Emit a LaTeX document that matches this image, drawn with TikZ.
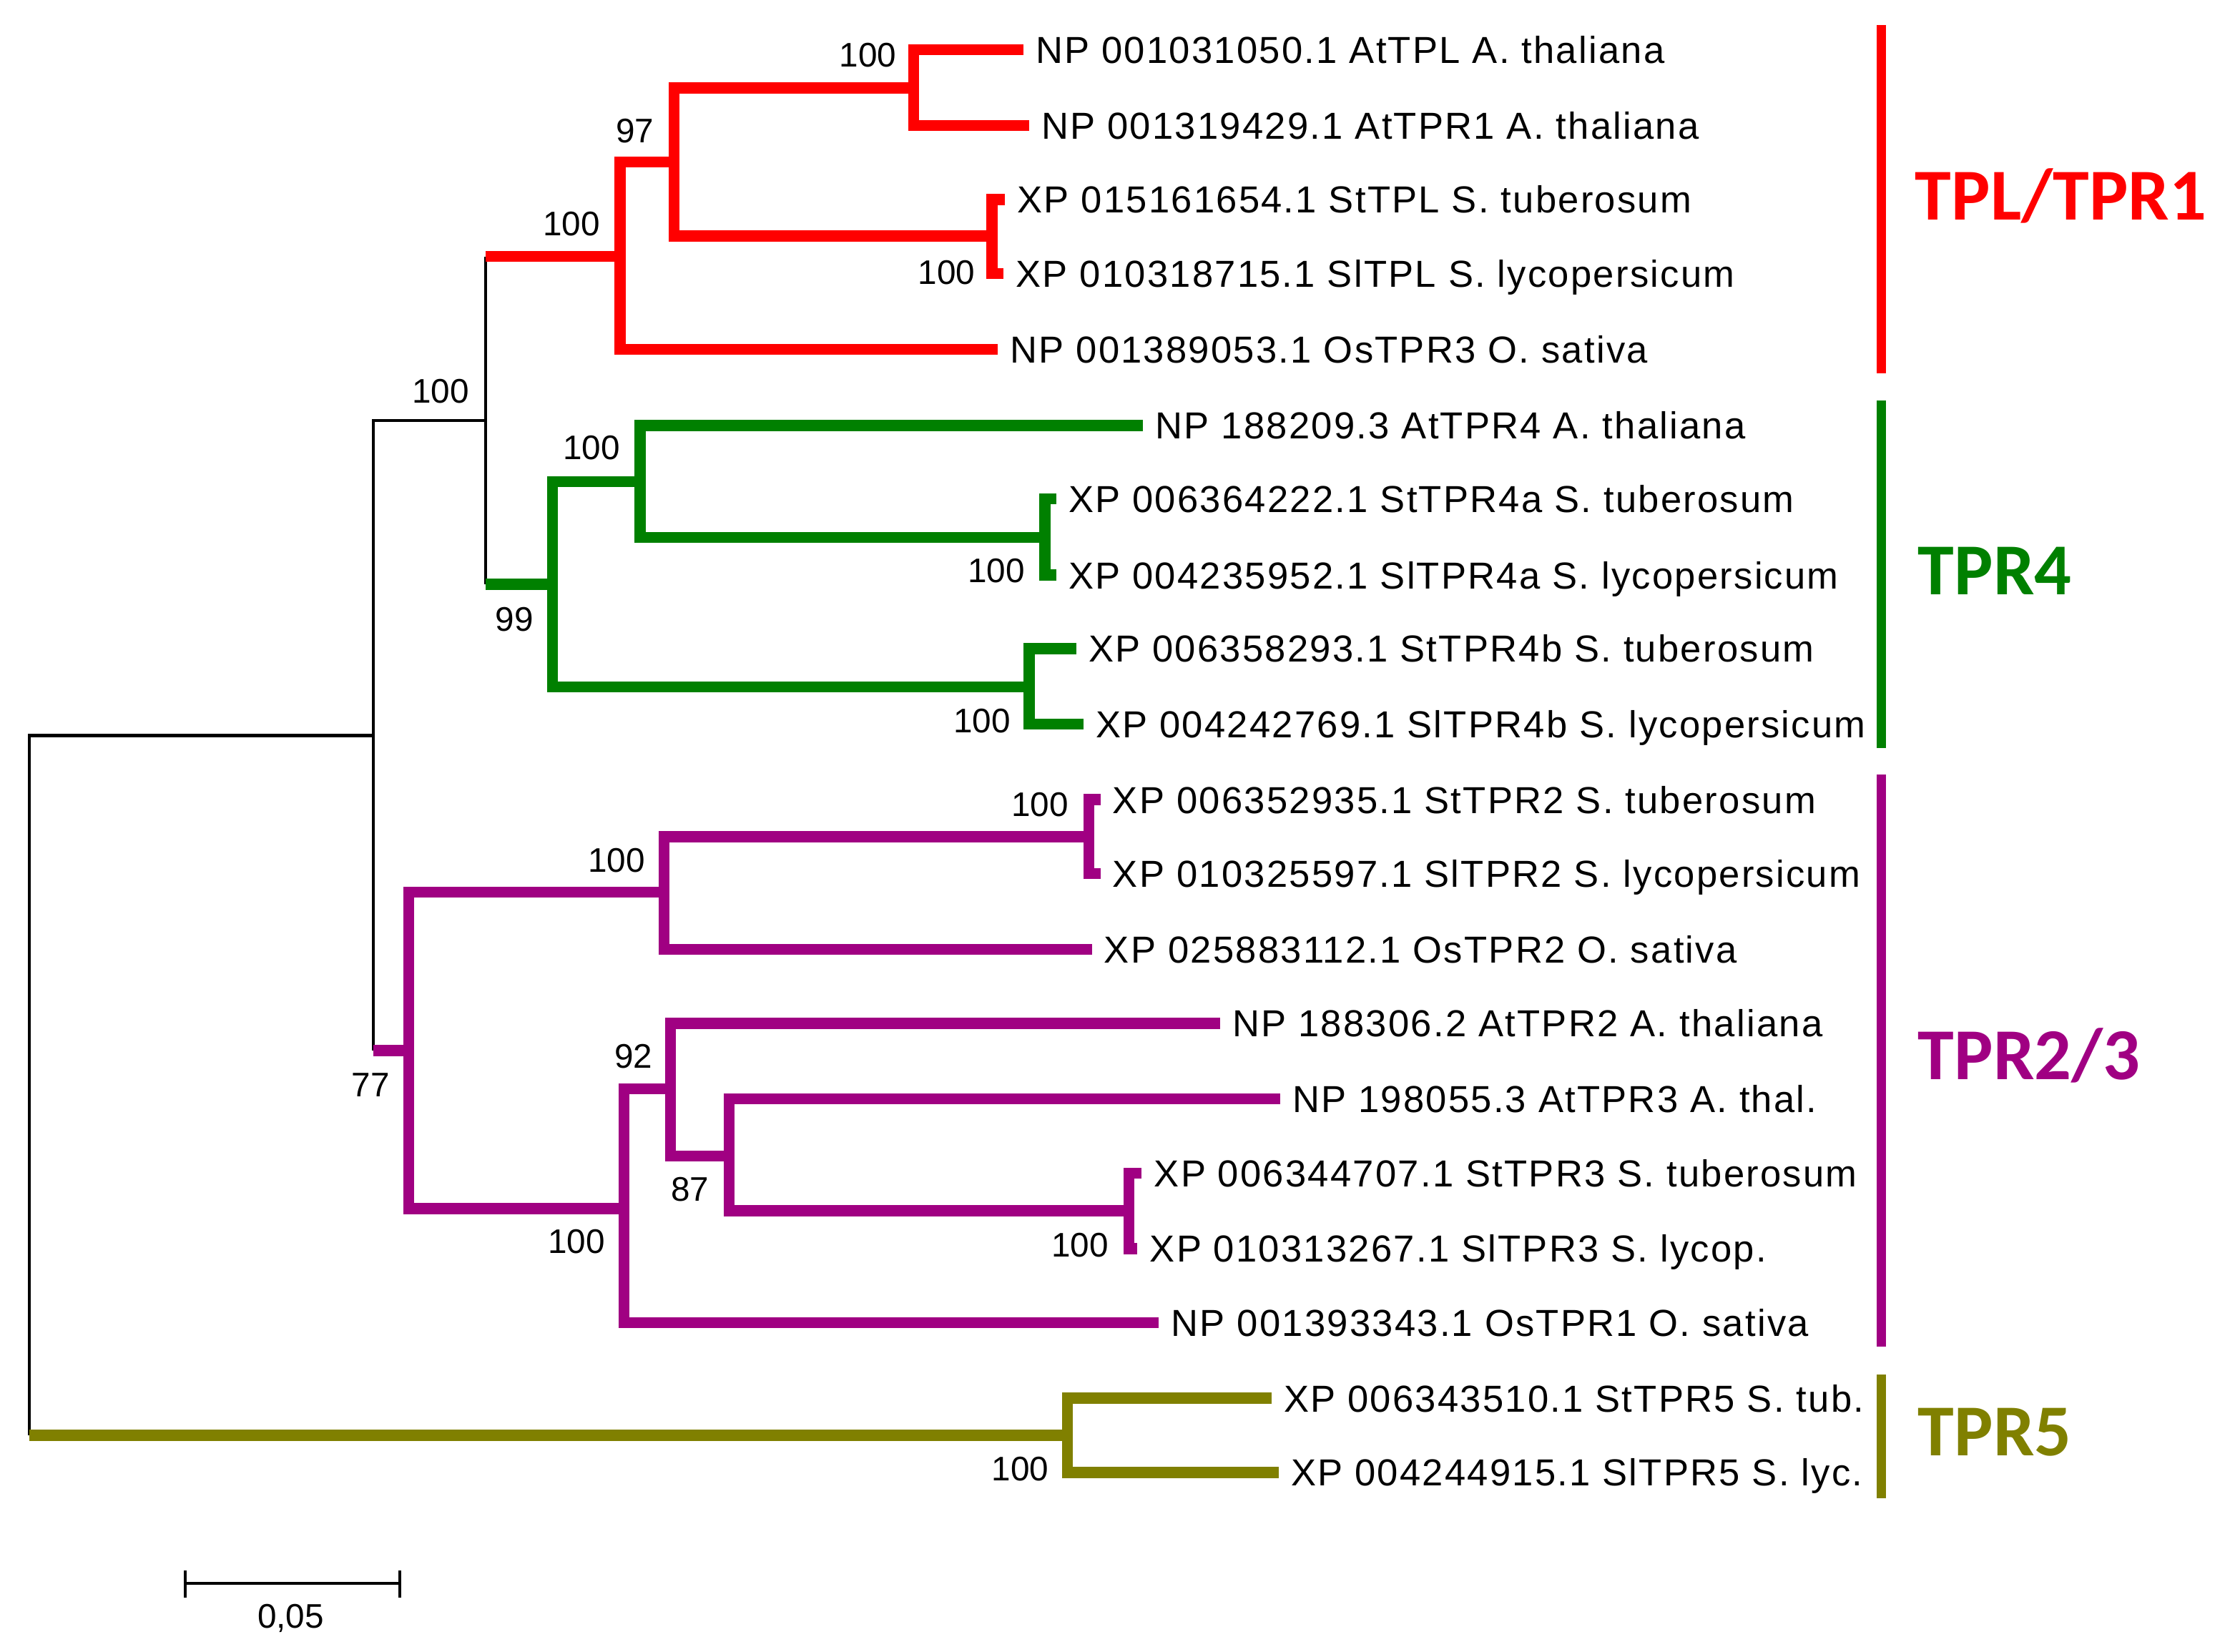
\documentclass[tikz,border=0pt]{standalone}
\usepackage{fontspec}
\setmainfont{Liberation Sans}
\newfontfamily\leaffont[LetterSpace=4.3]{Liberation Sans}
\newfontfamily\cladefont{Carlito}
\usepackage{tikz}
\usetikzlibrary{calc}

\definecolor{tplred}{RGB}{255,0,0}
\definecolor{tprgreen}{RGB}{0,128,0}
\definecolor{tprpurple}{RGB}{160,0,130}
\definecolor{tprolive}{RGB}{128,128,0}

\begin{document}
\begin{tikzpicture}[x=0.01cm,y=-0.01cm,
	blk/.style={line width=0.6pt},
	tred/.style={draw=tplred,line width=2.2pt},
	tgrn/.style={draw=tprgreen,line width=2.2pt},
	tprp/.style={draw=tprpurple,line width=2.2pt},
	tolv/.style={draw=tprolive,line width=2.2pt},
	leaf/.style={anchor=west,inner xsep=0.08cm,inner ysep=0pt,text height=5.4pt,text depth=0pt,font=\leaffont\fontsize{7.5}{9}\selectfont},
	boot/.style={inner sep=0pt,font=\fontsize{6.8}{8}\selectfont},
	clade/.style={anchor=west,inner sep=0pt,text height=9.3pt,text depth=0pt,font=\cladefont\bfseries\fontsize{14.6}{16}\selectfont},
	bar/.style={line width=1.9pt}]
		\useasboundingbox (0,0) rectangle (1568,1159);
		
		\coordinate(root) at (20.5,1007);
		\coordinate(n262) at (262,516);
		\coordinate(n341) at (340.5,295);
		\coordinate(nTPL) at (435,180);
		\coordinate(n97) at (473,113.5);
		\coordinate(n640) at (641,61.6);
		\coordinate(n696) at (696,165.5);
		\coordinate(n99) at (387.5,410);
		\coordinate(n447) at (449,338);
		\coordinate(n733) at (733,377);
		\coordinate(n722) at (722,482);
		\coordinate(n77) at (286.7,737);
		\coordinate(n465) at (466,626);
		\coordinate(n764) at (764,587);
		\coordinate(n437) at (437.7,848);
		\coordinate(n92) at (470.5,764);
		\coordinate(n87) at (511.5,811);
		\coordinate(n793) at (792,849.5);
		\coordinate(n750) at (749,1007);
		
		\node[leaf](L1) at (718,35) {NP 001031050.1 AtTPL A. thaliana};
		\node[leaf](L2) at (722,88) {NP 001319429.1 AtTPR1 A. thaliana};
		\node[leaf](L3) at (705,140) {XP 015161654.1 StTPL S. tuberosum};
		\node[leaf](L4) at (704,192) {XP 010318715.1 SlTPL S. lycopersicum};
		\node[leaf](L5) at (700,245) {NP 001389053.1 OsTPR3 O. sativa};
		\node[leaf](L6) at (802,298.5) {NP 188209.3 AtTPR4 A. thaliana};
		\node[leaf](L7) at (741,350) {XP 006364222.1 StTPR4a S. tuberosum};
		\node[leaf](L8) at (741,403.5) {XP 004235952.1 SlTPR4a S. lycopersicum};
		\node[leaf](L9) at (755,455) {XP 006358293.1 StTPR4b S. tuberosum};
		\node[leaf](L10) at (760,508) {XP 004242769.1 SlTPR4b S. lycopersicum};
		\node[leaf](L11) at (772,561) {XP 006352935.1 StTPR2 S. tuberosum};
		\node[leaf](L12) at (772,613) {XP 010325597.1 SlTPR2 S. lycopersicum};
		\node[leaf](L13) at (766,666) {XP 025883112.1 OsTPR2 O. sativa};
		\node[leaf](L14) at (856,718) {NP 188306.2 AtTPR2 A. thaliana};
		\node[leaf](L15) at (898,771) {NP 198055.3 AtTPR3 A. thal.};
		\node[leaf](L16) at (801,823) {XP 006344707.1 StTPR3 S. tuberosum};
		\node[leaf](L17) at (798,876) {XP 010313267.1 SlTPR3 S. lycop.};
		\node[leaf](L18) at (813,928) {NP 001393343.1 OsTPR1 O. sativa};
		\node[leaf](L19) at (892,981) {XP 006343510.1 StTPR5 S. tub.};
		\node[leaf](L20) at (897,1033) {XP 004244915.1 SlTPR5 S. lyc.};
		
		\draw[blk] (n262) -| (root);
		\draw[tolv] (root) -- (n750);
		\draw[blk] (n341) -| (n262 |- n77);
		\draw[tprp] (n262 |- n77) -- (n77);
		\draw[blk] (n341 |- nTPL) -- (n341 |- n99);
		\draw[tred] (n341 |- nTPL) -- (nTPL);
		\draw[tgrn] (n341 |- n99) -- (n99);
		
		\draw[tred] (nTPL) |- (n97);
		\draw[tred] (nTPL) |- (L5.west);
		\draw[tred] (n97) |- (n640);
		\draw[tred] (n97) |- (n696);
		\draw[tred] (n640) |- (L1.west);
		\draw[tred] (n640) |- (L2.west);
		\draw[tred] (n696) |- (L3.west);
		\draw[tred] (n696) |- (L4.west);
		
		\draw[tgrn] (n99) |- (n447);
		\draw[tgrn] (n99) |- (n722);
		\draw[tgrn] (n447) |- (L6.west);
		\draw[tgrn] (n447) |- (n733);
		\draw[tgrn] (n733) |- (L7.west);
		\draw[tgrn] (n733) |- (L8.west);
		\draw[tgrn] (n722) |- (L9.west);
		\draw[tgrn] (n722) |- (L10.west);
		
		\draw[tprp] (n77) |- (n465);
		\draw[tprp] (n77) |- (n437);
		\draw[tprp] (n465) |- (n764);
		\draw[tprp] (n465) |- (L13.west);
		\draw[tprp] (n764) |- (L11.west);
		\draw[tprp] (n764) |- (L12.west);
		\draw[tprp] (n437) |- (n92);
		\draw[tprp] (n437) |- (L18.west);
		\draw[tprp] (n92) |- (L14.west);
		\draw[tprp] (n92) |- (n87);
		\draw[tprp] (n87) |- (L15.west);
		\draw[tprp] (n87) |- (n793);
		\draw[tprp] (n793) |- (L16.west);
		\draw[tprp] (n793) |- (L17.west);
		
		\draw[tolv] (n750) |- (L19.west);
		\draw[tolv] (n750) |- (L20.west);
		
		\node[boot](b1) at (609,38.7) {100};
		\node[boot](b2) at (445.5,92) {97};
		\node[boot](b3) at (401,157) {100};
		\node[boot](b4) at (664,191) {100};
		\node[boot](b5) at (309,274.6) {100};
		\node[boot](b6) at (415,314) {100};
		\node[boot](b7) at (361,434.7) {99};
		\node[boot](b8) at (699,400.5) {100};
		\node[boot](b9) at (689,506) {100};
		\node[boot](b10) at (729.6,564.6) {100};
		\node[boot](b11) at (432.6,603.6) {100};
		\node[boot](b12) at (260,761) {77};
		\node[boot](b13) at (444.4,741) {92};
		\node[boot](b14) at (484,834.7) {87};
		\node[boot](b15) at (404.5,871) {100};
		\node[boot](b16) at (757.7,873.6) {100};
		\node[boot](b17) at (715.8,1030.7) {100};
		
		\draw[bar,tplred] (1320,17.6) -- (1320,262);
		\draw[bar,tprgreen] (1320,281) -- (1320,525);
		\draw[bar,tprpurple] (1320,543.6) -- (1320,945);
		\draw[bar,tprolive] (1320,964.4) -- (1320,1051);
		\node[clade,text=tplred](c1) at (1343,138) {TPL/TPR1};
		\node[clade,text=tprgreen](c2) at (1345,401) {TPR4};
		\node[clade,text=tprpurple](c3) at (1345,741) {TPR2/3};
		\node[clade,text=tprolive](c4) at (1345,1005) {TPR5};
		
		\coordinate(s1) at (130,1111);
		\coordinate(s2) at (280.5,1111);
		\draw[blk] (s1) -- (s2);
		\draw[blk] ($(s1)+(0,-9)$) -- ($(s1)+(0,10)$);
		\draw[blk] ($(s2)+(0,-9)$) -- ($(s2)+(0,10)$);
		\node[boot](sl) at (204,1135.5) {0,05};
\end{tikzpicture}
\end{document}
